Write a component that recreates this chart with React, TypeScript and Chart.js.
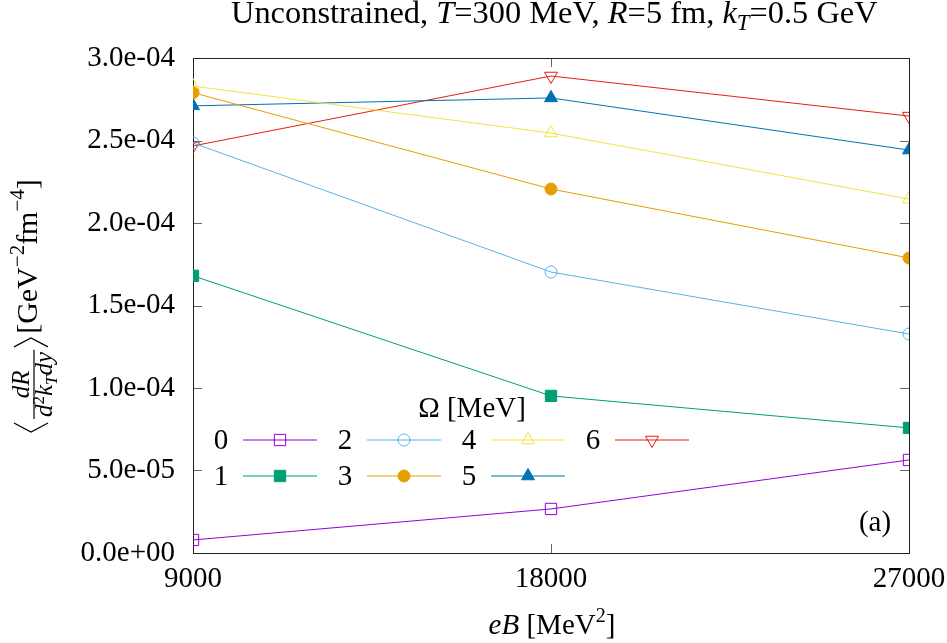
import React, { useEffect, useRef } from "react";
import { Chart, registerables } from "chart.js";
import { drawPoint } from "chart.js/helpers";

Chart.register(...registerables);

const eB = [9000, 18000, 27000];
const omega0 = [7.9e-6, 2.67e-5, 5.64e-5];
const omega1 = [1.68e-4, 9.52e-5, 7.58e-5];
const omega2 = [2.485e-4, 1.703e-4, 1.327e-4];
const omega3 = [2.79e-4, 2.206e-4, 1.788e-4];
const omega4 = [2.83e-4, 2.545e-4, 2.145e-4];
const omega5 = [2.71e-4, 2.758e-4, 2.442e-4];
const omega6 = [2.467e-4, 2.891e-4, 2.648e-4];
const omegaLabels = ["0", "1", "2", "3", "4", "5", "6"];
const xTickValues = [9000, 18000, 27000];
const yTickValues = [0, 5e-5, 1e-4, 1.5e-4, 2e-4, 2.5e-4, 3e-4];
const yTickLabels = ["0.0e+00", "5.0e-05", "1.0e-04", "1.5e-04", "2.0e-04", "2.5e-04", "3.0e-04"];

const seriesValues = [omega0, omega1, omega2, omega3, omega4, omega5, omega6];
const colors = ["#9400d3", "#009e73", "#56b4e9", "#e69f00", "#f0e442", "#0072b2", "#e51e10"];
const styles = [
  { ps: "rect", filled: false, r: 8, rot: 0 },
  { ps: "rect", filled: true, r: 8, rot: 0 },
  { ps: "circle", filled: false, r: 6, rot: 0 },
  { ps: "circle", filled: true, r: 6, rot: 0 },
  { ps: "triangle", filled: false, r: 7.5, rot: 0 },
  { ps: "triangle", filled: true, r: 7.5, rot: 0 },
  { ps: "triangle", filled: false, r: 7.5, rot: 180 },
];

const FONT = "'Liberation Serif', 'DejaVu Serif', serif";
const FS = 29;

type Seg = { t: string; it?: boolean; s: number; dy?: number };

function segWidth(ctx: CanvasRenderingContext2D, segs: Seg[], k = 1) {
  let w = 0;
  for (const g of segs) {
    ctx.font = `${g.it ? "italic " : ""}${g.s * k}px ${FONT}`;
    w += ctx.measureText(g.t).width;
  }
  return w;
}
function drawSegs(ctx: CanvasRenderingContext2D, segs: Seg[], x: number, y: number, k = 1) {
  let cx = x;
  ctx.textAlign = "left";
  ctx.textBaseline = "alphabetic";
  for (const g of segs) {
    ctx.font = `${g.it ? "italic " : ""}${g.s * k}px ${FONT}`;
    ctx.fillText(g.t, cx, y + (g.dy || 0) * k);
    cx += ctx.measureText(g.t).width;
  }
  return cx;
}

const decorPlugin = {
  id: "decor",
  beforeDatasetsDraw(chart: any) {
    const { ctx, chartArea: a, scales } = chart;
    ctx.save();
    ctx.strokeStyle = "#666";
    ctx.lineWidth = 1;
    ctx.beginPath();
    for (const v of yTickValues) {
      const y = Math.round(scales.y.getPixelForValue(v)) + 0.5;
      ctx.moveTo(a.left, y);
      ctx.lineTo(a.left + 9, y);
      ctx.moveTo(a.right, y);
      ctx.lineTo(a.right - 9, y);
    }
    for (const v of xTickValues) {
      const x = Math.round(scales.x.getPixelForValue(v)) + 0.5;
      ctx.moveTo(x, a.bottom);
      ctx.lineTo(x, a.bottom - 9);
      ctx.moveTo(x, a.top);
      ctx.lineTo(x, a.top + 9);
    }
    ctx.stroke();
    ctx.strokeStyle = "#222";
    ctx.strokeRect(Math.round(a.left) + 0.5, Math.round(a.top) + 0.5, Math.round(a.right - a.left), Math.round(a.bottom - a.top));
    ctx.restore();
  },
  afterDraw(chart: any) {
    const { ctx } = chart;
    ctx.save();
    ctx.fillStyle = "#000";
    // Title
    const title: Seg[] = [
      { t: "Unconstrained, ", s: 24 },
      { t: "T", it: true, s: 24 },
      { t: "=300 MeV, ", s: 24 },
      { t: "R", it: true, s: 24 },
      { t: "=5 fm, ", s: 24 },
      { t: "k", it: true, s: 24 },
      { t: "T", it: true, s: 17, dy: 5 },
      { t: "=0.5 GeV", s: 24 },
    ];
    const tw = segWidth(ctx, title);
    const k = 647 / tw;
    drawSegs(ctx, title, 231, 23, k);

    // X axis title
    const xt: Seg[] = [
      { t: "eB", it: true, s: FS },
      { t: " [MeV", s: FS },
      { t: "2", s: 20, dy: -12 },
      { t: "]", s: FS },
    ];
    const xw = segWidth(ctx, xt);
    drawSegs(ctx, xt, 552 - xw / 2, 634);

    // Y axis title (rotated)
    ctx.save();
    ctx.translate(37, 433);
    ctx.rotate(-Math.PI / 2);
    ctx.strokeStyle = "#000";
    ctx.lineWidth = 1.2;
    let x = 0;
    ctx.beginPath();
    ctx.moveTo(x + 10, -23);
    ctx.lineTo(x + 1, -6);
    ctx.lineTo(x + 10, 11);
    ctx.stroke();
    x += 14;
    const num: Seg[] = [{ t: "dR", it: true, s: 25 }];
    const den: Seg[] = [
      { t: "d", it: true, s: 25 },
      { t: "2", s: 17, dy: -8 },
      { t: "k", it: true, s: 25 },
      { t: "T", it: true, s: 17, dy: 5 },
      { t: "dy", it: true, s: 25 },
    ];
    const nw = segWidth(ctx, num);
    const dw = segWidth(ctx, den);
    const fw = Math.max(nw, dw) + 4;
    drawSegs(ctx, num, x + (fw - nw) / 2, -8);
    drawSegs(ctx, den, x + (fw - dw) / 2, 15);
    ctx.beginPath();
    ctx.moveTo(x, -3);
    ctx.lineTo(x + fw, -3);
    ctx.stroke();
    x += fw + 3;
    ctx.beginPath();
    ctx.moveTo(x, -23);
    ctx.lineTo(x + 9, -6);
    ctx.lineTo(x, 11);
    ctx.stroke();
    x += 13;
    const unit: Seg[] = [
      { t: "[GeV", s: 30 },
      { t: "−2", s: 21, dy: -13 },
      { t: "fm", s: 30 },
      { t: "−4", s: 21, dy: -13 },
      { t: "]", s: 30 },
    ];
    drawSegs(ctx, unit, x, 0);
    ctx.restore();

    // Legend
    ctx.fillStyle = "#000";
    ctx.textAlign = "center";
    ctx.textBaseline = "middle";
    ctx.font = `${FS}px ${FONT}`;
    ctx.fillText("Ω [MeV]", 472, 409);
    for (let i = 0; i < seriesValues.length; i++) {
      const col = Math.floor(i / 2);
      const row = i % 2;
      const lx = 221 + 124 * col;
      const ly = 441 + 36 * row;
      ctx.fillStyle = "#000";
      ctx.textAlign = "center";
      ctx.textBaseline = "middle";
      ctx.font = `${FS}px ${FONT}`;
      ctx.fillText(omegaLabels[i], lx, ly);
      ctx.strokeStyle = colors[i];
      ctx.lineWidth = 1;
      ctx.beginPath();
      ctx.moveTo(lx + 22, ly - 1);
      ctx.lineTo(lx + 96, ly - 1);
      ctx.stroke();
      const st = styles[i];
      ctx.fillStyle = st.filled ? colors[i] : "rgba(255,255,255,0)";
      ctx.strokeStyle = colors[i];
      ctx.lineWidth = 1;
      drawPoint(ctx, { pointStyle: st.ps as any, radius: st.r, rotation: st.rot, borderWidth: 1 } as any, lx + 59, ly - 1);
    }

    ctx.fillStyle = "#000";
    ctx.textAlign = "center";
    ctx.textBaseline = "middle";
    ctx.font = `${FS}px ${FONT}`;
    ctx.fillText("(a)", 875, 523);
    ctx.restore();
  },
};

export default function App() {
  const ref = useRef<HTMLCanvasElement | null>(null);
  useEffect(() => {
    if (!ref.current) return;
    const datasets = seriesValues.map((vals, i) => ({
      label: omegaLabels[i],
      data: eB.map((x, j) => ({ x, y: vals[j] })),
      borderColor: colors[i],
      backgroundColor: styles[i].filled ? colors[i] : "rgba(255,255,255,0)",
      borderWidth: 1,
      pointStyle: styles[i].ps as any,
      pointRadius: styles[i].r,
      pointRotation: styles[i].rot,
      pointBorderWidth: 1,
      pointBorderColor: colors[i],
      pointBackgroundColor: styles[i].filled ? colors[i] : "rgba(255,255,255,0)",
      tension: 0,
    }));
    const chart = new Chart(ref.current, {
      type: "line",
      data: { datasets },
      plugins: [decorPlugin],
      options: {
        animation: false,
        responsive: false,
        layout: { padding: { top: 58, right: 38, left: 0, bottom: 0 } },
        plugins: { legend: { display: false }, tooltip: { enabled: false }, title: { display: false } },
        scales: {
          x: {
            type: "linear",
            min: 9000,
            max: 27000,
            afterBuildTicks: (s: any) => {
              s.ticks = xTickValues.map((v) => ({ value: v }));
            },
            afterFit: (s: any) => {
              s.height = 90;
              s.paddingLeft = 0;
              s.paddingRight = 0;
            },
            ticks: {
              color: "#000",
              font: { family: FONT, size: FS },
              padding: 9,
              maxRotation: 0,
              autoSkip: false,
              callback: (v: any) => String(v),
            },
            grid: { display: false, drawTicks: false },
            border: { display: false },
          },
          y: {
            type: "linear",
            min: 0,
            max: 3e-4,
            afterBuildTicks: (s: any) => {
              s.ticks = yTickValues.map((v) => ({ value: v }));
            },
            afterFit: (s: any) => {
              s.width = 193;
              s.paddingTop = 0;
              s.paddingBottom = 0;
            },
            ticks: {
              color: "#000",
              font: { family: FONT, size: FS },
              padding: 18,
              autoSkip: false,
              callback: (_v: any, i: number) => yTickLabels[i],
            },
            grid: { display: false, drawTicks: false },
            border: { display: false },
          },
        },
      },
    });
    return () => chart.destroy();
  }, []);
  return (
    <div style={{ position: "fixed", left: 0, top: 0, width: 947, height: 643, background: "#fff" }}>
      <canvas ref={ref} width={947} height={643} style={{ display: "block" }} />
    </div>
  );
}
